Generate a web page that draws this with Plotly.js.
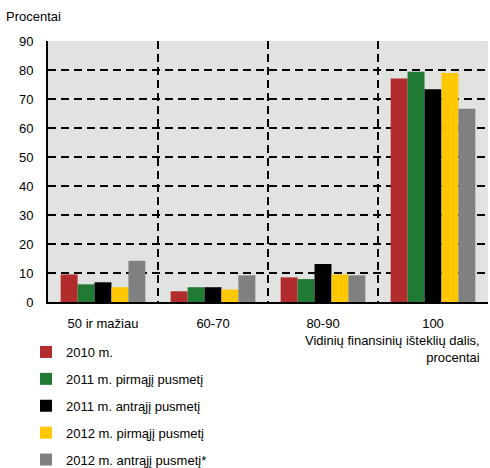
<!DOCTYPE html>
<html>
<head>
<meta charset="utf-8">
<script src="https://cdn.plot.ly/plotly-3.0.1.min.js"></script>
<style>html,body{margin:0;padding:0;background:#fff;}#chart{width:490px;height:468px;}</style>
</head>
<body>
<div id="chart"></div>
<script>
const categories = ["50 ir mažiau", "60-70", "80-90", "100"];
const seriesNames = ["2010 m.", "2011 m. pirmąjį pusmetį", "2011 m. antrąjį pusmetį", "2012 m. pirmąjį pusmetį", "2012 m. antrąjį pusmetį*"];
const s2010 = [9.5, 3.7, 8.5, 77.1];
const s2011a = [6.1, 5.1, 7.9, 79.4];
const s2011b = [6.8, 5.1, 13.1, 73.4];
const s2012a = [5.1, 4.3, 9.5, 79.0];
const s2012b = [14.2, 9.2, 9.2, 66.6];
const colors = ["#b22c2e", "#217a33", "#000000", "#ffc800", "#808080"];
const values = [s2010, s2011a, s2011b, s2012a, s2012b];
const yTicks = [0, 10, 20, 30, 40, 50, 60, 70, 80, 90];

const font = {family: "Liberation Sans, Arial, sans-serif", size: 13, color: "#000"};
const traces = values.map((v, i) => ({
  type: "bar", x: categories, y: v, name: seriesNames[i],
  marker: {color: colors[i]}, legendgroup: "g" + i
}));

// paper area: x 10..488 (478 px), y 5..464 (459 px)
const layout = {
  width: 490, height: 468,
  margin: {l: 10, r: 2, t: 5, b: 4, autoexpand: false},
  paper_bgcolor: "#fff", plot_bgcolor: "#e0e3e0",
  font: font,
  barmode: "group", bargap: 0.23, bargroupgap: 0,
  showlegend: true,
  legend: {x: 0.0335, xanchor: "left", y: 0.2767, yanchor: "top",
           orientation: "v", tracegroupgap: 7, font: font, bgcolor: "rgba(0,0,0,0)"},
  xaxis: {type: "category", domain: [0.0795, 1], tickson: "boundaries", showgrid: true, gridcolor: "#000",
          griddash: "8px,5px", gridwidth: 2, showline: true, linecolor: "#000", linewidth: 2,
          ticks: "", ticklabelstandoff: 8, tickfont: font, zeroline: false, automargin: false},
  yaxis: {range: [0, 90], domain: [0.3529, 0.9216], tickvals: yTicks, showgrid: true, gridcolor: "#000",
          griddash: "8px,5px", gridwidth: 2, showline: true, linecolor: "#000", linewidth: 2,
          ticks: "", ticklabelstandoff: 10, tickfont: font, zeroline: false, automargin: false},
  annotations: [
    {text: "Procentai", xref: "paper", yref: "paper", x: 0, xshift: -6, y: 0.9739,
     xanchor: "left", yanchor: "middle", showarrow: false, font: font},
    {text: "Vidinių finansinių išteklių dalis,<br>procentai", xref: "paper", yref: "paper",
     x: 1, xshift: -6, y: 0.3529, yshift: -29, xanchor: "right", yanchor: "top", align: "right",
     showarrow: false, font: font}
  ]
};
Plotly.newPlot("chart", traces, layout, {displayModeBar: false, staticPlot: true});
</script>
</body>
</html>
